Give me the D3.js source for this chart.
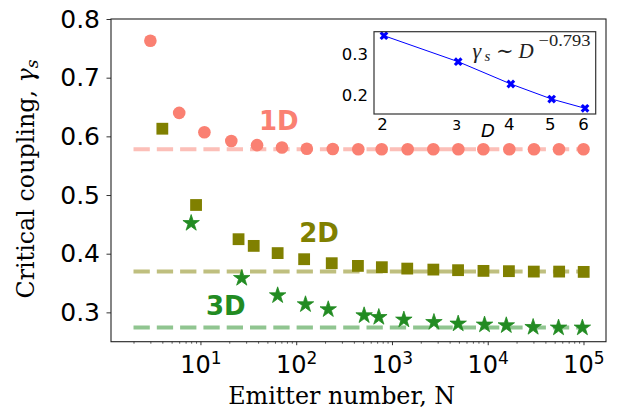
<!DOCTYPE html>
<html><head><meta charset="utf-8">
<script src="https://cdn.jsdelivr.net/npm/d3@7"></script>
<style>body{margin:0;background:#fff}svg{display:block}</style>
</head><body>
<svg id="c" width="618" height="411"></svg>
<script>
// ---- data ----
const N1D = [3, 6, 11, 21, 39, 71, 129, 241, 445, 781, 1459, 2703, 4931, 8995, 16800, 30400, 55500, 100000];
const g1D = [0.763, 0.640, 0.607, 0.592, 0.585, 0.581, 0.5788, 0.5785, 0.578, 0.578, 0.578, 0.578, 0.578, 0.578, 0.578, 0.578, 0.578, 0.578];
const N2D = [4, 9, 25, 36, 64, 121, 235, 441, 784, 1444, 2704, 4900, 9025, 16641, 30276, 55696, 100489];
const g2D = [0.613, 0.483, 0.4247, 0.4133, 0.401, 0.3906, 0.3838, 0.3792, 0.377, 0.3746, 0.3729, 0.3719, 0.3707, 0.3702, 0.3695, 0.3695, 0.369];
const N3D = [8, 27, 64, 125, 216, 512, 729, 1331, 2744, 4913, 9261, 15625, 29791, 54872, 97336];
const g3D = [0.453, 0.3593, 0.3298, 0.3145, 0.306, 0.2957, 0.2928, 0.2884, 0.2843, 0.2816, 0.2799, 0.2787, 0.2758, 0.2748, 0.2748];
const limitValues = [0.578, 0.3695, 0.274];   // large-N limits 1D, 2D, 3D
const limitRange = [2, 100000];
const dimLabels = ["1D", "2D", "3D"];
const xMajor = [10, 100, 1000, 10000, 100000];
const yTicks = [0.3, 0.4, 0.5, 0.6, 0.7, 0.8];
// inset
const Dvals = [2, 3, 4, 5, 6];
const gD = [0.3457, 0.2818, 0.227, 0.190, 0.1673];
const insetYTicks = [0.2, 0.3];
const fitExponent = "−0.793";

const colors = ["#fa8072", "#808000", "#228b22"];
const light = ["#fcbfb8", "#bfbf7f", "#90c590"];

const svg = d3.select("#c");
const L = 111, R = 606, T = 19, B = 341.7;
const x = d3.scaleLog().domain([Math.pow(10, 0.066), Math.pow(10, 5.235)]).range([L, R]);
const y = d3.scaleLinear().domain([0.25, 0.8]).range([B, T]);

// reference dashed lines
svg.append("g").selectAll("line").data(limitValues).join("line")
  .attr("x1", x(limitRange[0])).attr("x2", x(limitRange[1]))
  .attr("y1", d => y(d)).attr("y2", d => y(d))
  .attr("stroke", (d, i) => light[i]).attr("stroke-width", 4)
  .attr("stroke-dasharray", "16.3,7");

// 1D circles
svg.append("g").selectAll("circle").data(N1D.map((n, i) => [n, g1D[i]])).join("circle")
  .attr("cx", d => x(d[0])).attr("cy", d => y(d[1])).attr("r", 6.3)
  .attr("fill", colors[0]);
// 2D squares
const sq = 11.8;
svg.append("g").selectAll("rect").data(N2D.map((n, i) => [n, g2D[i]])).join("rect")
  .attr("x", d => x(d[0]) - sq / 2).attr("y", d => y(d[1]) - sq / 2)
  .attr("width", sq).attr("height", sq).attr("fill", colors[1]);
// 3D stars
const star = d3.symbol(d3.symbolStar, 84);
svg.append("g").selectAll("path").data(N3D.map((n, i) => [n, g3D[i]])).join("path")
  .attr("transform", d => `translate(${x(d[0])},${y(d[1]) + 0.6})`)
  .attr("d", star).attr("fill", colors[2])
  .attr("stroke", colors[2]).attr("stroke-width", 0.8).attr("stroke-linejoin", "round");

// dimension labels
const labelPos = [[278.8, 130], [319, 241.7], [225.8, 315]];
svg.append("g").selectAll("text").data(dimLabels).join("text")
  .attr("x", (d, i) => labelPos[i][0]).attr("y", (d, i) => labelPos[i][1])
  .attr("text-anchor", "middle").attr("font-family", "DejaVu Sans").attr("font-weight", "bold")
  .attr("font-size", 26).attr("fill", (d, i) => colors[i]).text(d => d);

// axes
const minor = [];
for (let e = 0; e <= 5; e++) for (let m = 2; m <= 9; m++) {
  const v = m * Math.pow(10, e);
  if (v >= x.domain()[0] && v <= x.domain()[1]) minor.push(v);
}
const gxMinor = svg.append("g").attr("transform", `translate(0,${B})`)
  .call(d3.axisBottom(x).tickValues(minor).tickSize(2).tickFormat(""));
gxMinor.select(".domain").remove();
gxMinor.selectAll("line").attr("stroke", "#333").attr("stroke-width", 0.8);

const gx = svg.append("g").attr("transform", `translate(0,${B})`)
  .call(d3.axisBottom(x).tickValues(xMajor).tickSize(3.5).tickFormat(""));
gx.select(".domain").remove();
gx.selectAll("line").attr("stroke", "#333").attr("stroke-width", 1);
gx.selectAll(".tick text").attr("y", 31).attr("dy", null)
  .attr("font-family", "DejaVu Sans").attr("font-size", 24).attr("fill", "#000")
  .each(function (d) {
    const t = d3.select(this);
    t.append("tspan").text("10");
    t.append("tspan").attr("dy", -8.5).attr("font-size", 17).text(Math.round(Math.log10(d)));
  });

const gy = svg.append("g").attr("transform", `translate(${L},0)`)
  .call(d3.axisLeft(y).tickValues(yTicks).tickSize(4.5).tickPadding(6.5).tickFormat(d3.format(".1f")));
gy.select(".domain").remove();
gy.selectAll("line").attr("stroke", "#333").attr("stroke-width", 1);
gy.selectAll("text").attr("font-family", "DejaVu Sans").attr("font-size", 25).attr("fill", "#000");

// frame
svg.append("rect").attr("x", L).attr("y", T).attr("width", R - L).attr("height", B - T)
  .attr("fill", "none").attr("stroke", "#222").attr("stroke-width", 1.1);

// axis labels
svg.append("text").attr("x", 341.7).attr("y", 404).attr("text-anchor", "middle")
  .attr("font-family", "DejaVu Serif").attr("font-size", 23.8).attr("fill", "#000")
  .text("Emitter number, N");
const yl = svg.append("text").attr("transform", "translate(33.5,179) rotate(-90)")
  .attr("text-anchor", "middle").attr("font-family", "DejaVu Serif").attr("font-size", 23.8).attr("fill", "#000");
yl.append("tspan").text("Critical coupling, ");
yl.append("tspan").attr("font-style", "italic").text("γ");
yl.append("tspan").attr("font-style", "italic").attr("font-size", 17).attr("dy", 4).text("s");

// ---- inset ----
const iL = 374, iR = 595.7, iT = 31.7, iB = 114;
const ix = d3.scaleLog().domain([1.894, 6.36]).range([iL, iR]);
const iy = d3.scaleLinear().domain([0.1533, 0.3555]).range([iB, iT]);
const ins = svg.append("g");
ins.append("rect").attr("x", iL).attr("y", iT).attr("width", iR - iL).attr("height", iB - iT)
  .attr("fill", "#fff");
ins.append("path").datum(Dvals.map((d, i) => [d, gD[i]]))
  .attr("d", d3.line().x(d => ix(d[0])).y(d => iy(d[1])))
  .attr("fill", "none").attr("stroke", "#0000ff").attr("stroke-width", 1);
const xm = d3.symbol(d3.symbolCross, 48);
ins.append("g").selectAll("path").data(Dvals.map((d, i) => [d, gD[i]])).join("path")
  .attr("transform", d => `translate(${ix(d[0])},${iy(d[1])}) rotate(45)`)
  .attr("d", xm).attr("fill", "#0000ff");
ins.append("rect").attr("x", iL).attr("y", iT).attr("width", iR - iL).attr("height", iB - iT)
  .attr("fill", "none").attr("stroke", "#333").attr("stroke-width", 1.2);
ins.append("g").selectAll("text").data(insetYTicks).join("text")
  .attr("x", 368).attr("y", d => iy(d)).attr("dy", "0.36em").attr("text-anchor", "end")
  .attr("font-family", "DejaVu Sans").attr("font-size", 16.5).attr("fill", "#000")
  .text(d3.format(".1f"));
ins.append("g").selectAll("text").data(Dvals).join("text")
  .attr("x", d => ix(d) - 1.5).attr("y", 129.5).attr("text-anchor", "middle")
  .attr("font-family", "DejaVu Sans").attr("font-size", d => d === 3 ? 14 : 16.5).attr("fill", "#000")
  .text(d => d);
ins.append("text").attr("x", 488).attr("y", 137).attr("text-anchor", "middle")
  .attr("font-family", "DejaVu Sans").attr("font-style", "italic").attr("font-size", 18)
  .attr("fill", "#000").text("D");
const ft = ins.append("text").attr("y", 57.5).attr("font-family", "Liberation Serif").attr("fill", "#222");
ft.append("tspan").attr("x", 472.5).attr("font-style", "italic").attr("font-size", 22).text("γ");
ft.append("tspan").attr("x", 484.5).attr("dy", 3).attr("font-style", "italic").attr("font-size", 15).text("s");
ft.append("tspan").attr("x", 496).attr("dy", -3).attr("font-size", 21).attr("font-family", "DejaVu Serif").text("∼");
ft.append("tspan").attr("x", 518.5).attr("font-style", "italic").attr("font-size", 21).text("D");
ft.append("tspan").attr("x", 538.5).attr("dy", -12).attr("font-size", 16).attr("textLength", 52)
  .attr("lengthAdjust", "spacingAndGlyphs").text(fitExponent);
</script>
</body></html>
